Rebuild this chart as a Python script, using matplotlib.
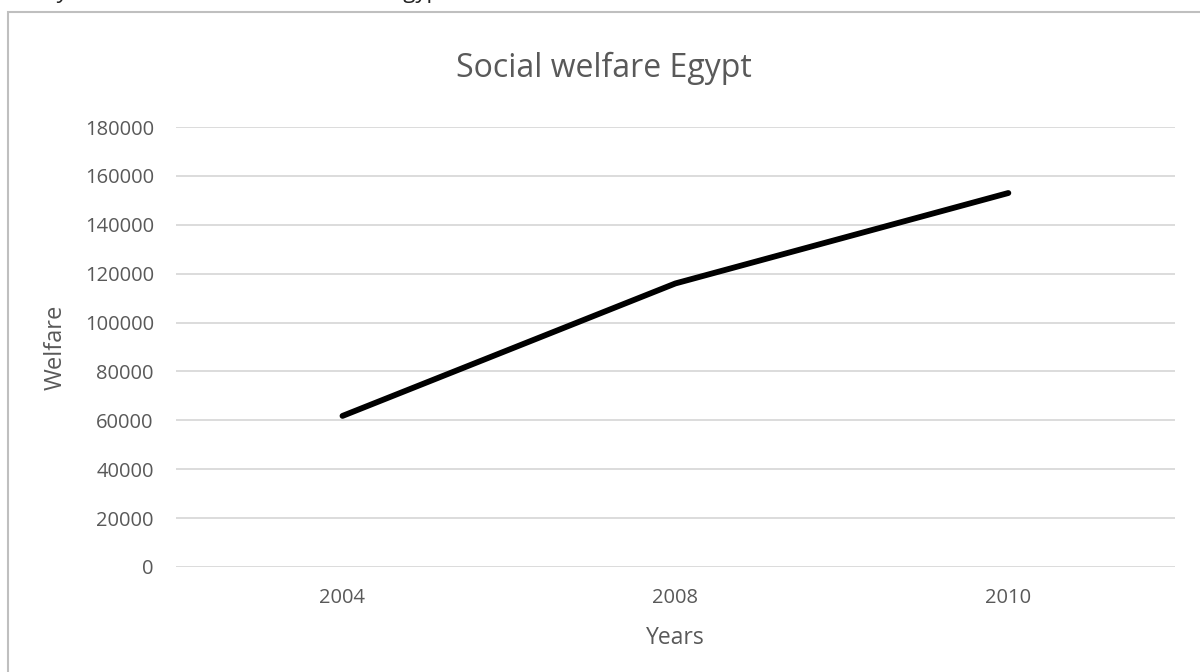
"""Social welfare in Egypt: simple line chart over survey years."""
import matplotlib
matplotlib.use("Agg")
import matplotlib.pyplot as plt
from matplotlib.patches import Rectangle

years = ["2004", "2008", "2010"]
welfare = [61800, 116000, 153000]
y_ticks = list(range(0, 180001, 20000))

plt.rcParams["font.family"] = ["Open Sans", "DejaVu Sans"]
GREY = "#595959"

fig = plt.figure(figsize=(12, 6.72), dpi=100)
ax = fig.add_axes([0.1467, 0.1563, 0.8323, 0.6547])

x = list(range(len(years)))
ax.plot(x, welfare, color="black", linewidth=4.2, solid_capstyle="round",
        solid_joinstyle="round", zorder=3)

ax.set_xlim(-0.5, len(years) - 0.5)
ax.set_ylim(0, 180000)
ax.set_xticks(x)
ax.set_xticklabels(years)
ax.set_yticks(y_ticks)
ax.set_yticklabels([str(v) for v in y_ticks])
ax.grid(axis="y", color="#d9d9d9", linewidth=1.3)
ax.set_axisbelow(True)
for s in ax.spines.values():
    s.set_visible(False)
ax.tick_params(length=0, labelsize=14.5, colors=GREY)
ax.tick_params(axis="y", pad=16)
ax.tick_params(axis="x", pad=15)

fig.text(0.503, 1 - 77 / 672, "Social welfare Egypt", fontsize=23, color=GREY,
         ha="center", va="baseline")
ax.set_xlabel("Years", fontsize=16.5, color=GREY, labelpad=13)
ax.set_ylabel("Welfare", fontsize=17, color=GREY, labelpad=12)

# chart frame, running off the right and bottom edges
fig.patches.append(Rectangle((8 / 1200, -0.05), 1.2, 1 - 12 / 672 + 0.05,
                             transform=fig.transFigure, fill=False,
                             edgecolor="#bfbfbf", linewidth=1.5))

# descenders of the caption line above
fig.text(58 / 1200, 1.003, "y", fontsize=16, style="italic", color="#222222", va="baseline")
fig.text(392 / 1200, 1.003, "Egypt", fontsize=16, color="#222222", va="baseline")

fig.savefig("out.png", dpi=100)
